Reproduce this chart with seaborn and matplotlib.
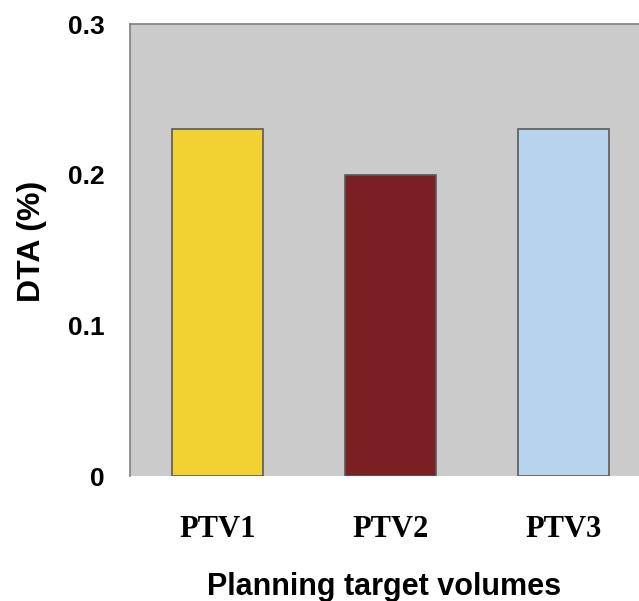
import matplotlib
matplotlib.use("Agg")
import matplotlib.pyplot as plt
import seaborn as sns
import pandas as pd

categories = ["PTV1", "PTV2", "PTV3"]
dta_values = [0.23, 0.20, 0.23]
bar_colors = ["#F2D232", "#7B1F22", "#B8D3EE"]
y_ticks = [0, 0.1, 0.2, 0.3]
y_tick_labels = ["0", "0.1", "0.2", "0.3"]

sns.set_theme(style="white")
plt.rcParams["font.family"] = ["Liberation Sans", "DejaVu Sans"]
plt.rcParams["text.color"] = "black"
plt.rcParams["axes.labelcolor"] = "black"
plt.rcParams["xtick.color"] = "black"
plt.rcParams["ytick.color"] = "black"

df = pd.DataFrame({"volume": categories, "dta": dta_values})

fig = plt.figure(figsize=(6.39, 6.01), dpi=100)
ax = fig.add_axes([130 / 639, 1 - 476 / 601, 1 - 130 / 639, (476 - 24) / 601])
ax.set_facecolor("#CBCBCB")

sns.barplot(data=df, x="volume", y="dta", hue="volume", palette=bar_colors,
            legend=False, width=0.526, edgecolor="#5A5A5A", linewidth=1.2,
            saturation=1, ax=ax)

ax.set_xlim(-0.506, 2.436)
ax.set_ylim(0, 0.3)
ax.set_yticks(y_ticks)
ax.set_yticklabels(y_tick_labels, fontsize=19, fontweight="bold", color="black")
ax.tick_params(axis="y", length=0, pad=18)
ax.tick_params(axis="x", length=0, pad=28)
for lbl in ax.get_xticklabels():
    lbl.set_fontfamily("Liberation Serif")
    lbl.set_fontsize(22)
    lbl.set_fontweight("bold")
    lbl.set_color("black")

ax.set_xlabel("Planning target volumes", fontsize=22, fontweight="bold",
              labelpad=20, color="black")
ax.set_ylabel("DTA (%)", fontsize=23, fontweight="bold", color="black")
ax.yaxis.set_label_coords(-0.163, 0.52)

for side in ["left", "top"]:
    ax.spines[side].set_visible(True)
    ax.spines[side].set_color("#808080")
    ax.spines[side].set_linewidth(1.2)
for side in ["right", "bottom"]:
    ax.spines[side].set_visible(False)

fig.savefig("out.png", dpi=100, facecolor="white")
